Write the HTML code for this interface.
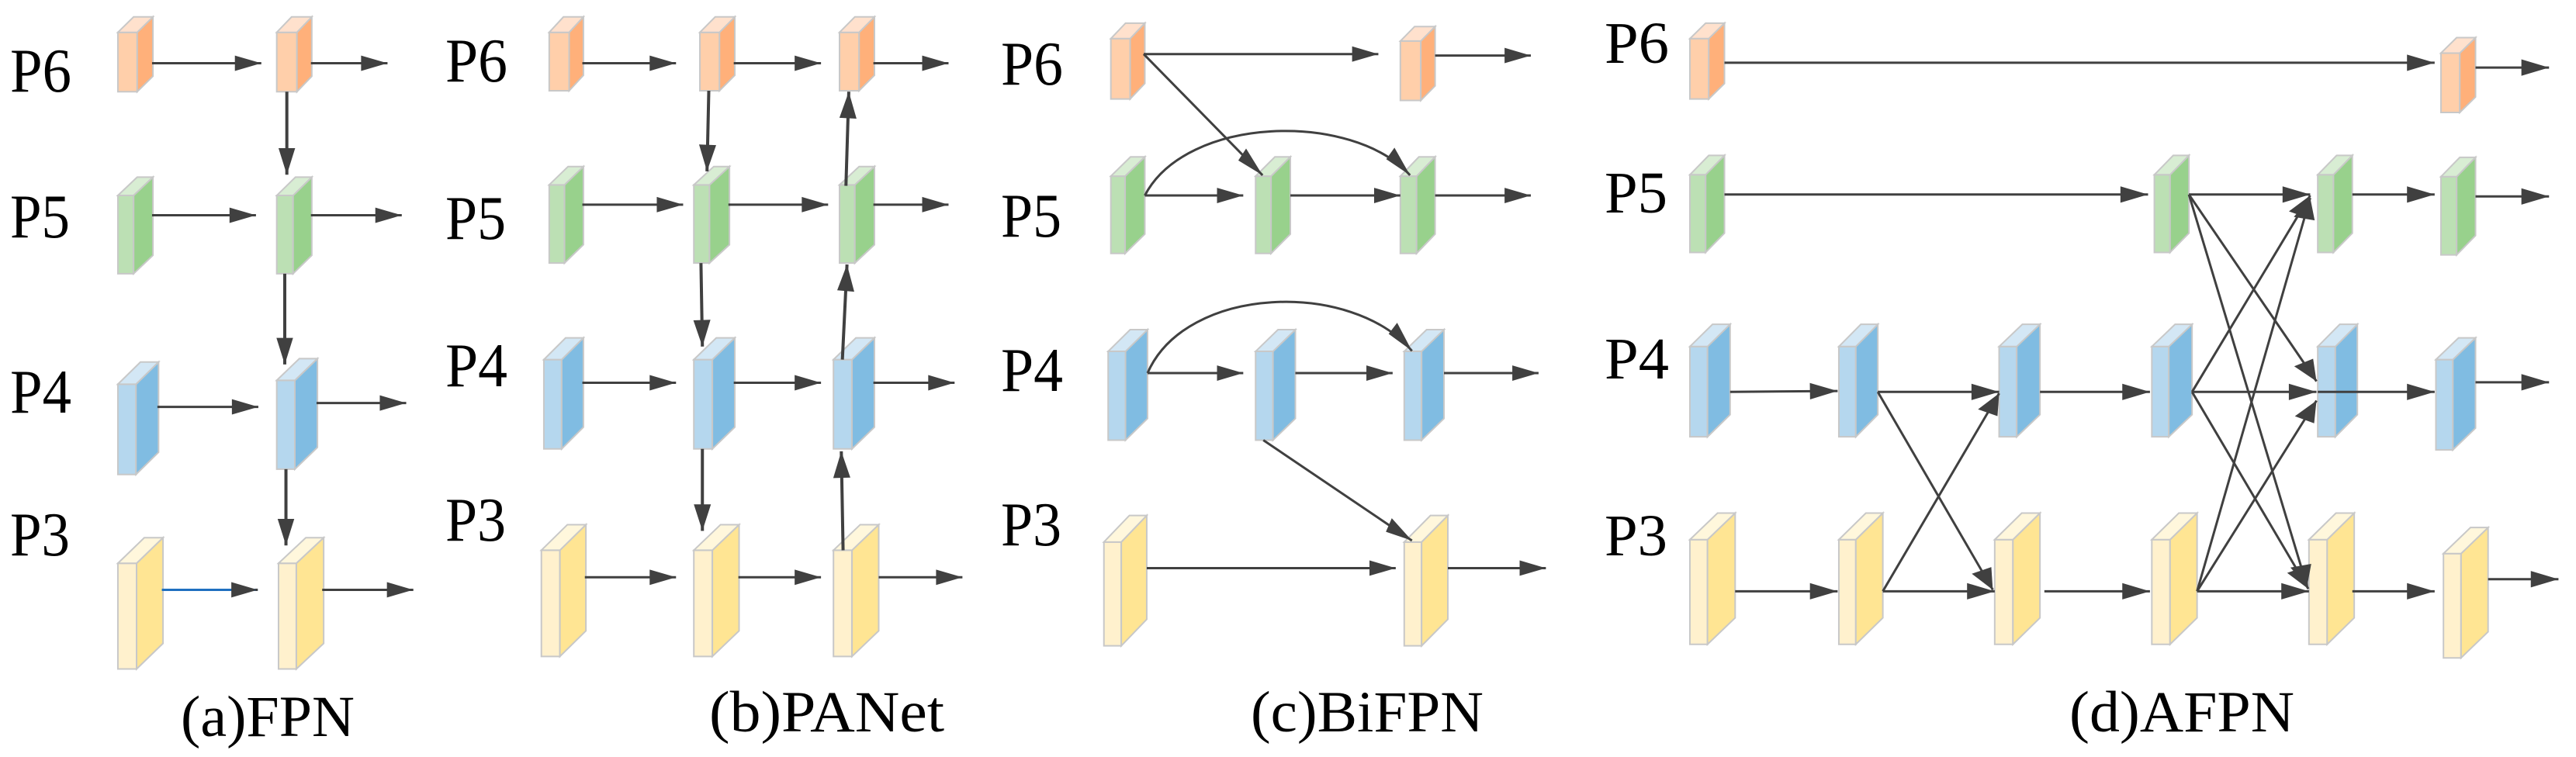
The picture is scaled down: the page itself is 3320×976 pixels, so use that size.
<!DOCTYPE html>
<html><head><meta charset="utf-8"><style>
html,body{margin:0;padding:0;background:#fff;}
svg{display:block;}
text{font-family:"Liberation Serif",serif;fill:#000;}
.o1{fill:#FFCFAA}.o2{fill:#FFB07A}.o3{fill:#FFE1CD}
.g1{fill:#BCE0B4}.g2{fill:#98D18C}.g3{fill:#D8EDD3}
.b1{fill:#B5D7EE}.b2{fill:#80BCE2}.b3{fill:#D3E7F5}
.y1{fill:#FFF1CD}.y2{fill:#FFE593}.y3{fill:#FFF7DC}
polygon,rect{stroke:#c8c8c8;stroke-width:2;vector-effect:non-scaling-stroke;}
line,path.c{stroke:#404040;stroke-width:3;fill:none;vector-effect:non-scaling-stroke;}
</style></head><body>
<svg width="3320" height="976" viewBox="0 0 3320 976" xmlns="http://www.w3.org/2000/svg">
<defs>
<marker id="ha" markerUnits="userSpaceOnUse" orient="auto" overflow="visible" markerWidth="1" markerHeight="1" refX="0" refY="0"><path d="M0,0 L-89,-16 L-89,16 z" fill="#404040"/></marker>
<marker id="va" markerUnits="userSpaceOnUse" orient="auto" overflow="visible" markerWidth="1" markerHeight="1"><path d="M0,0 L-55,-28 L-55,28 z" fill="#404040"/></marker>
<marker id="hb" markerUnits="userSpaceOnUse" orient="auto" overflow="visible" markerWidth="1" markerHeight="1"><path d="M0,0 L-74,-16 L-74,16 z" fill="#404040"/></marker>
<marker id="vb" markerUnits="userSpaceOnUse" orient="auto" overflow="visible" markerWidth="1" markerHeight="1"><path d="M0,0 L-55,-24 L-55,24 z" fill="#404040"/></marker>
<marker id="hc" markerUnits="userSpaceOnUse" orient="auto" overflow="visible" markerWidth="1" markerHeight="1"><path d="M0,0 L-68,-16 L-68,16 z" fill="#404040"/></marker>
<marker id="hd" markerUnits="userSpaceOnUse" orient="auto" overflow="visible" markerWidth="1" markerHeight="1"><path d="M0,0 L-44,-17 L-44,17 z" fill="#404040"/></marker>
</defs>

<!-- Panel A -->
<g transform="translate(0,0) scale(0.3827,0.6223)">
<rect class="o1" x="397" y="67" width="65" height="123"/><polygon class="o2" points="462,67 515,35 515,158 462,190"/><polygon class="o3" points="397,67 450,35 515,35 462,67"/>
<rect class="o1" x="932" y="67" width="68" height="123"/><polygon class="o2" points="1000,67 1050,35 1050,158 1000,190"/><polygon class="o3" points="932,67 982,35 1050,35 1000,67"/>
<rect class="g1" x="397" y="405" width="53" height="162"/><polygon class="g2" points="450,405 515,367 515,529 450,567"/><polygon class="g3" points="397,405 462,367 515,367 450,405"/>
<rect class="g1" x="932" y="405" width="55" height="162"/><polygon class="g2" points="987,405 1050,367 1050,529 987,567"/><polygon class="g3" points="932,405 995,367 1050,367 987,405"/>
<rect class="b1" x="397" y="796" width="61" height="187"/><polygon class="b2" points="458,796 534,750 534,937 458,983"/><polygon class="b3" points="397,796 473,750 534,750 458,796"/>
<rect class="b1" x="932" y="788" width="61" height="184"/><polygon class="b2" points="993,788 1069,743 1069,927 993,972"/><polygon class="b3" points="932,788 1008,743 1069,743 993,788"/>
<rect class="y1" x="397" y="1167" width="63" height="219"/><polygon class="y2" points="460,1167 549,1114 549,1333 460,1386"/><polygon class="y3" points="397,1167 486,1114 549,1114 460,1167"/>
<rect class="y1" x="938" y="1167" width="60" height="219"/><polygon class="y2" points="998,1167 1090,1114 1090,1333 998,1386"/><polygon class="y3" points="938,1167 1030,1114 1090,1114 998,1167"/>
<line x1="512" y1="131" x2="880" y2="131" marker-end="url(#ha)"/>
<line x1="1047" y1="131" x2="1305" y2="131" marker-end="url(#ha)"/>
<line x1="512" y1="446" x2="862" y2="446" marker-end="url(#ha)"/>
<line x1="1047" y1="446" x2="1353" y2="446" marker-end="url(#ha)"/>
<line x1="530" y1="843" x2="870" y2="843" marker-end="url(#ha)"/>
<line x1="1066" y1="835" x2="1368" y2="835" marker-end="url(#ha)"/>
<line x1="545" y1="1222" x2="868" y2="1222" style="stroke:#1f6fc0"/>
<line x1="860" y1="1222" x2="868" y2="1222" marker-end="url(#ha)"/>
<line x1="1085" y1="1222" x2="1392" y2="1222" marker-end="url(#ha)"/>
<line x1="966" y1="190" x2="966" y2="362" marker-end="url(#va)" style="stroke-width:4"/>
<line x1="959" y1="567" x2="959" y2="755" marker-end="url(#va)" style="stroke-width:4"/>
<line x1="963" y1="972" x2="963" y2="1130" marker-end="url(#va)" style="stroke-width:4"/>
</g>

<!-- Panel B -->
<g transform="translate(560,0) scale(0.4591,0.6223)">
<rect class="o1" x="322" y="67" width="56" height="121"/><polygon class="o2" points="378,67 418,35 418,156 378,188"/><polygon class="o3" points="322,67 362,35 418,35 378,67"/>
<rect class="o1" x="745" y="67" width="55" height="121"/><polygon class="o2" points="800,67 843,35 843,156 800,188"/><polygon class="o3" points="745,67 788,35 843,35 800,67"/>
<rect class="o1" x="1137" y="67" width="55" height="121"/><polygon class="o2" points="1192,67 1235,35 1235,156 1192,188"/><polygon class="o3" points="1137,67 1180,35 1235,35 1192,67"/>
<rect class="g1" x="322" y="383" width="43" height="162"/><polygon class="g2" points="365,383 418,345 418,507 365,545"/><polygon class="g3" points="322,383 375,345 418,345 365,383"/>
<rect class="g1" x="728" y="383" width="44" height="162"/><polygon class="g2" points="772,383 828,345 828,507 772,545"/><polygon class="g3" points="728,383 784,345 828,345 772,383"/>
<rect class="g1" x="1137" y="383" width="43" height="162"/><polygon class="g2" points="1180,383 1235,345 1235,507 1180,545"/><polygon class="g3" points="1137,383 1192,345 1235,345 1180,383"/>
<rect class="b1" x="307" y="745" width="50" height="185"/><polygon class="b2" points="357,745 418,700 418,885 357,930"/><polygon class="b3" points="307,745 368,700 418,700 357,745"/>
<rect class="b1" x="728" y="745" width="52" height="185"/><polygon class="b2" points="780,745 843,700 843,885 780,930"/><polygon class="b3" points="728,745 791,700 843,700 780,745"/>
<rect class="b1" x="1120" y="745" width="52" height="185"/><polygon class="b2" points="1172,745 1235,700 1235,885 1172,930"/><polygon class="b3" points="1120,745 1183,700 1235,700 1172,745"/>
<rect class="y1" x="300" y="1140" width="52" height="220"/><polygon class="y2" points="352,1140 425,1087 425,1307 352,1360"/><polygon class="y3" points="300,1140 373,1087 425,1087 352,1140"/>
<rect class="y1" x="728" y="1140" width="52" height="220"/><polygon class="y2" points="780,1140 855,1087 855,1307 780,1360"/><polygon class="y3" points="728,1140 803,1087 855,1087 780,1140"/>
<rect class="y1" x="1120" y="1140" width="52" height="220"/><polygon class="y2" points="1172,1140 1247,1087 1247,1307 1172,1360"/><polygon class="y3" points="1120,1140 1195,1087 1247,1087 1172,1140"/>
<line x1="415" y1="131" x2="678" y2="131" marker-end="url(#hb)"/>
<line x1="840" y1="131" x2="1085" y2="131" marker-end="url(#hb)"/>
<line x1="1232" y1="131" x2="1443" y2="131" marker-end="url(#hb)"/>
<line x1="415" y1="424" x2="698" y2="424" marker-end="url(#hb)"/>
<line x1="825" y1="424" x2="1105" y2="424" marker-end="url(#hb)"/>
<line x1="1232" y1="424" x2="1443" y2="424" marker-end="url(#hb)"/>
<line x1="415" y1="793" x2="678" y2="793" marker-end="url(#hb)"/>
<line x1="840" y1="793" x2="1085" y2="793" marker-end="url(#hb)"/>
<line x1="1232" y1="793" x2="1460" y2="793" marker-end="url(#hb)"/>
<line x1="422" y1="1196" x2="678" y2="1196" marker-end="url(#hb)"/>
<line x1="853" y1="1196" x2="1085" y2="1196" marker-end="url(#hb)"/>
<line x1="1247" y1="1196" x2="1482" y2="1196" marker-end="url(#hb)"/>
<line x1="770" y1="188" x2="765" y2="355" marker-end="url(#vb)" style="stroke-width:4"/>
<line x1="748" y1="545" x2="752" y2="718" marker-end="url(#vb)" style="stroke-width:4"/>
<line x1="752" y1="930" x2="752" y2="1100" marker-end="url(#vb)" style="stroke-width:4"/>
<line x1="1147" y1="1140" x2="1142" y2="935" marker-end="url(#vb)" style="stroke-width:4"/>
<line x1="1145" y1="745" x2="1158" y2="548" marker-end="url(#vb)" style="stroke-width:4"/>
<line x1="1155" y1="385" x2="1163" y2="190" marker-end="url(#vb)" style="stroke-width:4"/>
</g>

<!-- Panel C -->
<g transform="translate(1270,0) scale(0.4975,0.6223)">
<rect class="o1" x="325" y="80" width="50" height="125"/><polygon class="o2" points="375,80 413,48 413,173 375,205"/><polygon class="o3" points="325,80 363,48 413,48 375,80"/>
<rect class="o1" x="1075" y="85" width="53" height="123"/><polygon class="o2" points="1128,85 1165,55 1165,178 1128,208"/><polygon class="o3" points="1075,85 1112,55 1165,55 1128,85"/>
<rect class="g1" x="325" y="365" width="37" height="160"/><polygon class="g2" points="362,365 413,325 413,485 362,525"/><polygon class="g3" points="325,365 376,325 413,325 362,365"/>
<rect class="g1" x="700" y="365" width="40" height="160"/><polygon class="g2" points="740,365 790,325 790,485 740,525"/><polygon class="g3" points="700,365 750,325 790,325 740,365"/>
<rect class="g1" x="1075" y="365" width="42" height="160"/><polygon class="g2" points="1117,365 1165,325 1165,485 1117,525"/><polygon class="g3" points="1075,365 1123,325 1165,325 1117,365"/>
<rect class="b1" x="318" y="728" width="45" height="184"/><polygon class="b2" points="363,728 420,683 420,867 363,912"/><polygon class="b3" points="318,728 375,683 420,683 363,728"/>
<rect class="b1" x="700" y="728" width="45" height="184"/><polygon class="b2" points="745,728 803,683 803,867 745,912"/><polygon class="b3" points="700,728 758,683 803,683 745,728"/>
<rect class="b1" x="1085" y="728" width="45" height="184"/><polygon class="b2" points="1130,728 1188,683 1188,867 1130,912"/><polygon class="b3" points="1085,728 1143,683 1188,683 1130,728"/>
<rect class="y1" x="307" y="1123" width="45" height="215"/><polygon class="y2" points="352,1123 418,1068 418,1283 352,1338"/><polygon class="y3" points="307,1123 373,1068 418,1068 352,1123"/>
<rect class="y1" x="1085" y="1123" width="45" height="215"/><polygon class="y2" points="1130,1123 1198,1068 1198,1283 1130,1338"/><polygon class="y3" points="1085,1123 1153,1068 1198,1068 1130,1123"/>
<line x1="410" y1="112" x2="1018" y2="112" marker-end="url(#hc)"/>
<line x1="1165" y1="115" x2="1413" y2="115" marker-end="url(#hc)"/>
<line x1="410" y1="112" x2="718" y2="363" marker-end="url(#hc)"/>
<line x1="413" y1="405" x2="668" y2="405" marker-end="url(#hc)"/>
<line x1="790" y1="405" x2="1075" y2="405" marker-end="url(#hc)"/>
<line x1="1165" y1="405" x2="1413" y2="405" marker-end="url(#hc)"/>
<path class="c" d="M413,405 C520,240 950,230 1100,363" marker-end="url(#hc)"/>
<line x1="420" y1="773" x2="668" y2="773" marker-end="url(#hc)"/>
<line x1="803" y1="773" x2="1055" y2="773" marker-end="url(#hc)"/>
<line x1="1188" y1="773" x2="1433" y2="773" marker-end="url(#hc)"/>
<path class="c" d="M420,773 C520,590 950,580 1105,727" marker-end="url(#hc)"/>
<line x1="720" y1="912" x2="1105" y2="1120" marker-end="url(#hc)"/>
<line x1="418" y1="1177" x2="1063" y2="1177" marker-end="url(#hc)"/>
<line x1="1198" y1="1177" x2="1452" y2="1177" marker-end="url(#hc)"/>
</g>

<!-- Panel D -->
<g transform="translate(2050,0) scale(0.8100,0.6223)">
<rect class="o1" x="158" y="80" width="30" height="125"/><polygon class="o2" points="188,80 213,48 213,173 188,205"/><polygon class="o3" points="158,80 183,48 213,48 188,80"/>
<rect class="o1" x="1353" y="110" width="30" height="123"/><polygon class="o2" points="1383,110 1408,78 1408,201 1383,233"/><polygon class="o3" points="1353,110 1378,78 1408,78 1383,110"/>
<rect class="g1" x="158" y="362" width="25" height="161"/><polygon class="g2" points="183,362 213,322 213,483 183,523"/><polygon class="g3" points="158,362 188,322 213,322 183,362"/>
<rect class="g1" x="897" y="362" width="25" height="161"/><polygon class="g2" points="922,362 952,322 952,483 922,523"/><polygon class="g3" points="897,362 927,322 952,322 922,362"/>
<rect class="g1" x="1157" y="362" width="25" height="161"/><polygon class="g2" points="1182,362 1212,322 1212,483 1182,523"/><polygon class="g3" points="1157,362 1187,322 1212,322 1182,362"/>
<rect class="g1" x="1353" y="366" width="25" height="162"/><polygon class="g2" points="1378,366 1408,326 1408,488 1378,528"/><polygon class="g3" points="1353,366 1383,326 1408,326 1378,366"/>
<rect class="b1" x="158" y="718" width="28" height="187"/><polygon class="b2" points="186,718 222,672 222,859 186,905"/><polygon class="b3" points="158,718 194,672 222,672 186,718"/>
<rect class="b1" x="395" y="718" width="27" height="187"/><polygon class="b2" points="422,718 457,672 457,859 422,905"/><polygon class="b3" points="395,718 430,672 457,672 422,718"/>
<rect class="b1" x="650" y="718" width="28" height="187"/><polygon class="b2" points="678,718 715,672 715,859 678,905"/><polygon class="b3" points="650,718 687,672 715,672 678,718"/>
<rect class="b1" x="893" y="718" width="27" height="187"/><polygon class="b2" points="920,718 957,672 957,859 920,905"/><polygon class="b3" points="893,718 930,672 957,672 920,718"/>
<rect class="b1" x="1157" y="718" width="28" height="187"/><polygon class="b2" points="1185,718 1220,672 1220,859 1185,905"/><polygon class="b3" points="1157,718 1192,672 1220,672 1185,718"/>
<rect class="b1" x="1345" y="745" width="27" height="187"/><polygon class="b2" points="1372,745 1408,700 1408,887 1372,932"/><polygon class="b3" points="1345,745 1381,700 1408,700 1372,745"/>
<rect class="y1" x="158" y="1118" width="28" height="217"/><polygon class="y2" points="186,1118 230,1063 230,1280 186,1335"/><polygon class="y3" points="158,1118 202,1063 230,1063 186,1118"/>
<rect class="y1" x="395" y="1118" width="27" height="217"/><polygon class="y2" points="422,1118 465,1063 465,1280 422,1335"/><polygon class="y3" points="395,1118 438,1063 465,1063 422,1118"/>
<rect class="y1" x="643" y="1118" width="29" height="217"/><polygon class="y2" points="672,1118 715,1063 715,1280 672,1335"/><polygon class="y3" points="643,1118 686,1063 715,1063 672,1118"/>
<rect class="y1" x="893" y="1118" width="29" height="217"/><polygon class="y2" points="922,1118 965,1063 965,1280 922,1335"/><polygon class="y3" points="893,1118 936,1063 965,1063 922,1118"/>
<rect class="y1" x="1143" y="1118" width="29" height="217"/><polygon class="y2" points="1172,1118 1215,1063 1215,1280 1172,1335"/><polygon class="y3" points="1143,1118 1186,1063 1215,1063 1172,1118"/>
<rect class="y1" x="1357" y="1147" width="28" height="216"/><polygon class="y2" points="1385,1147 1428,1093 1428,1309 1385,1363"/><polygon class="y3" points="1357,1147 1400,1093 1428,1093 1385,1147"/>
<line x1="213" y1="130" x2="1343" y2="130" marker-end="url(#hd)"/>
<line x1="1408" y1="140" x2="1525" y2="140" marker-end="url(#hd)"/>
<line x1="213" y1="403" x2="887" y2="403" marker-end="url(#hd)"/>
<line x1="952" y1="403" x2="1145" y2="403" marker-end="url(#hd)"/>
<line x1="1212" y1="403" x2="1343" y2="403" marker-end="url(#hd)"/>
<line x1="1408" y1="407" x2="1525" y2="407" marker-end="url(#hd)"/>
<line x1="222" y1="812" x2="393" y2="810" marker-end="url(#hd)"/>
<line x1="457" y1="812" x2="650" y2="812" marker-end="url(#hd)"/>
<line x1="715" y1="812" x2="890" y2="812" marker-end="url(#hd)"/>
<line x1="957" y1="812" x2="1155" y2="812" marker-end="url(#hd)"/>
<line x1="1157" y1="812" x2="1343" y2="812" marker-end="url(#hd)"/>
<line x1="1408" y1="792" x2="1525" y2="792" marker-end="url(#hd)"/>
<line x1="230" y1="1225" x2="393" y2="1225" marker-end="url(#hd)"/>
<line x1="465" y1="1225" x2="643" y2="1225" marker-end="url(#hd)"/>
<line x1="722" y1="1225" x2="890" y2="1225" marker-end="url(#hd)"/>
<line x1="965" y1="1225" x2="1143" y2="1225" marker-end="url(#hd)"/>
<line x1="1212" y1="1225" x2="1343" y2="1225" marker-end="url(#hd)"/>
<line x1="1428" y1="1200" x2="1540" y2="1200" marker-end="url(#hd)"/>
<line x1="457" y1="812" x2="640" y2="1222" marker-end="url(#hd)"/>
<line x1="465" y1="1225" x2="650" y2="815" marker-end="url(#hd)"/>
<line x1="952" y1="403" x2="1155" y2="790" marker-end="url(#hd)"/>
<line x1="952" y1="403" x2="1140" y2="1215" marker-end="url(#hd)"/>
<line x1="957" y1="812" x2="1145" y2="405" marker-end="url(#hd)"/>
<line x1="957" y1="812" x2="1142" y2="1220" marker-end="url(#hd)"/>
<line x1="965" y1="1225" x2="1145" y2="410" marker-end="url(#hd)"/>
<line x1="965" y1="1225" x2="1155" y2="830" marker-end="url(#hd)"/>
</g>

<!-- Labels -->
<g font-size="80">
<text x="13" y="118" textLength="79" lengthAdjust="spacingAndGlyphs">P6</text>
<text x="13" y="306" textLength="77" lengthAdjust="spacingAndGlyphs">P5</text>
<text x="13" y="532" textLength="79" lengthAdjust="spacingAndGlyphs">P4</text>
<text x="13" y="716" textLength="77" lengthAdjust="spacingAndGlyphs">P3</text>
<text x="574" y="105" textLength="80" lengthAdjust="spacingAndGlyphs">P6</text>
<text x="574" y="308" textLength="78" lengthAdjust="spacingAndGlyphs">P5</text>
<text x="574" y="498" textLength="80" lengthAdjust="spacingAndGlyphs">P4</text>
<text x="574" y="697" textLength="78" lengthAdjust="spacingAndGlyphs">P3</text>
<text x="1290" y="109" textLength="80" lengthAdjust="spacingAndGlyphs">P6</text>
<text x="1290" y="305" textLength="78" lengthAdjust="spacingAndGlyphs">P5</text>
<text x="1290" y="504" textLength="80" lengthAdjust="spacingAndGlyphs">P4</text>
<text x="1290" y="703" textLength="78" lengthAdjust="spacingAndGlyphs">P3</text>
</g>
<g font-size="76">
<text x="2068" y="81" textLength="83" lengthAdjust="spacingAndGlyphs">P6</text>
<text x="2068" y="274" textLength="81" lengthAdjust="spacingAndGlyphs">P5</text>
<text x="2068" y="488" textLength="83" lengthAdjust="spacingAndGlyphs">P4</text>
<text x="2068" y="716" textLength="81" lengthAdjust="spacingAndGlyphs">P3</text>
</g>
<g font-size="75">
<text x="233" y="949" textLength="224" lengthAdjust="spacingAndGlyphs">(a)FPN</text>
<text x="914" y="943" textLength="303" lengthAdjust="spacingAndGlyphs">(b)PANet</text>
<text x="1612" y="943" textLength="300" lengthAdjust="spacingAndGlyphs">(c)BiFPN</text>
<text x="2667" y="943" textLength="290" lengthAdjust="spacingAndGlyphs">(d)AFPN</text>
</g>
</svg>
</body></html>
